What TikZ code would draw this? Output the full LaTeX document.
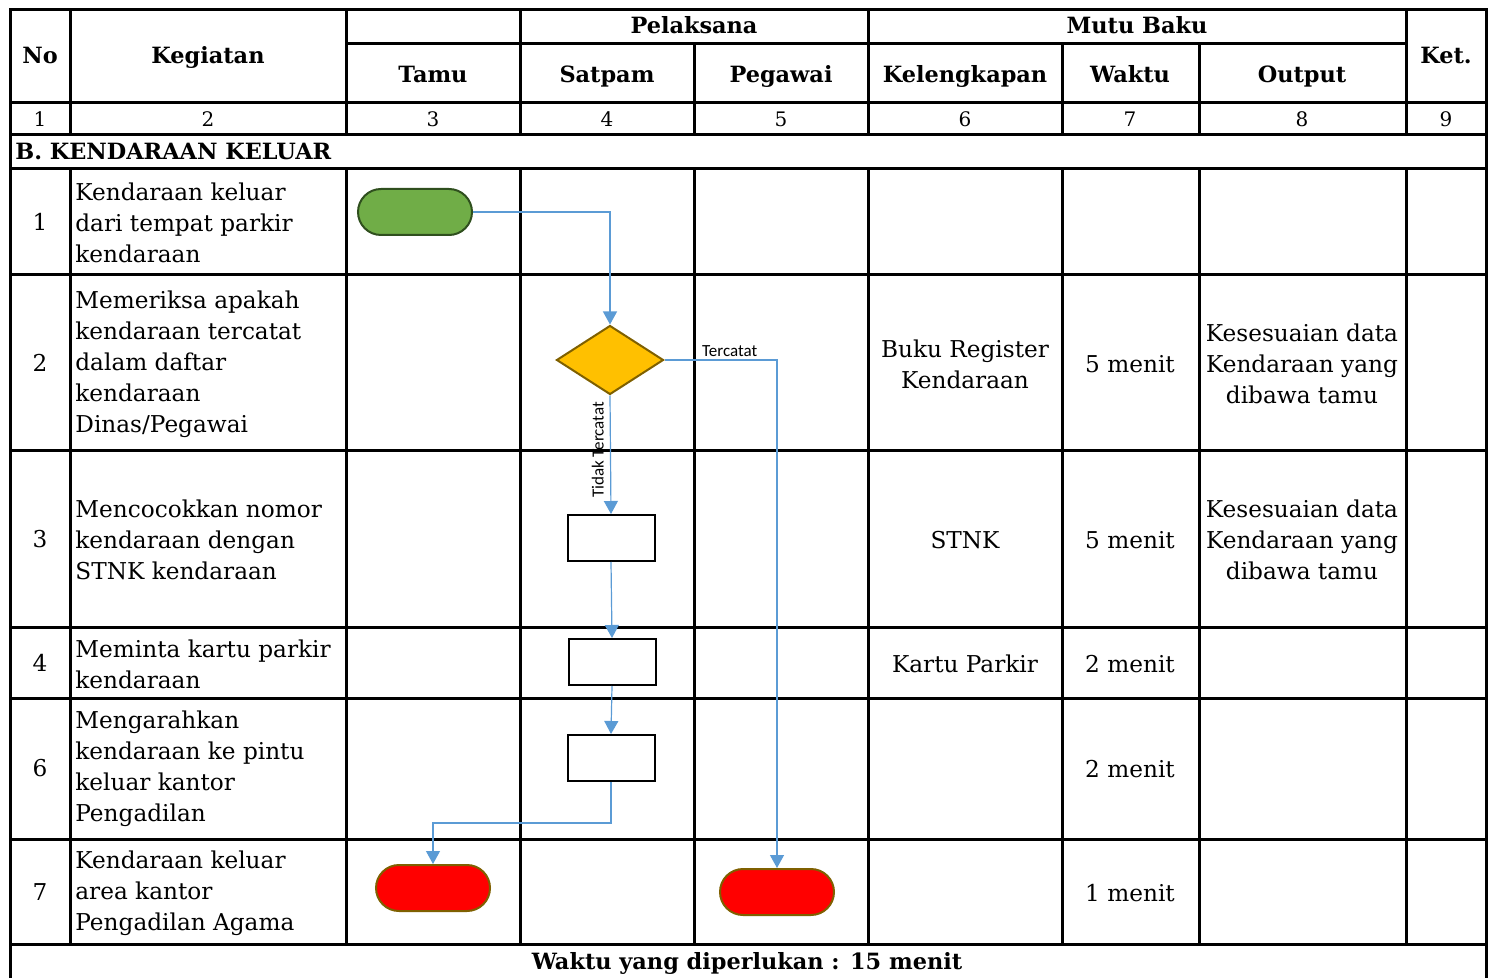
\documentclass[tikz,border=0pt]{standalone}
\usepackage{fontspec}
\setmainfont{DejaVu Serif}
\newfontfamily\labelfont{Carlito}
\usetikzlibrary{shapes.geometric,shapes.misc,arrows.meta}

\definecolor{startgreen}{HTML}{70AD47}
\definecolor{startedge}{HTML}{2F4F1E}
\definecolor{decyellow}{HTML}{FFC000}
\definecolor{decedge}{HTML}{7F6000}
\definecolor{flowblue}{HTML}{5B9BD5}

\begin{document}
\begin{tikzpicture}[x=0.5pt,y=-0.5pt,
  grid/.style={line width=1.5pt,line cap=rect},
  head/.style={font=\bfseries\fontsize{11.2}{13}\selectfont,text height=8pt,text depth=0.5pt},
  num/.style={font=\fontsize{10}{12}\selectfont,text height=7pt,text depth=0pt},
  act/.style={anchor=west,align=left,inner sep=0pt,font=\fontsize{11.6}{15.5}\selectfont},
  cell/.style={align=center,inner sep=0pt,font=\fontsize{11.6}{15.5}\selectfont},
  term/.style={rounded rectangle,draw=decedge,line width=1pt,minimum width=57pt,minimum height=23pt,inner sep=0pt},
  decision/.style={diamond,draw=decedge,fill=decyellow,line width=1pt,minimum width=53.5pt,minimum height=34.5pt,inner sep=0pt},
  proc/.style={rectangle,draw,line width=1pt,minimum width=43.5pt,minimum height=23pt,inner sep=0pt},
  flow/.style={draw=flowblue,line width=0.6pt,-{Triangle[width=7pt,length=6.5pt]}},
  flowlabel/.style={font=\labelfont\fontsize{8.5}{10}\selectfont,inner sep=1.5pt}]

\useasboundingbox (0,0) rectangle (1494,978);

% table lines
\draw[grid] (10,10) -- (1486,10);
\draw[grid] (346,44) -- (1406,44);
\draw[grid] (10,103) -- (1486,103);
\draw[grid] (10,135) -- (1486,135);
\draw[grid] (10,169) -- (1486,169);
\foreach \y in {275,451,627,698,839,944}
  \draw[grid] (10,\y) -- (1486,\y);

\draw[grid] (10,10) -- (10,978);
\draw[grid] (1486,10) -- (1486,978);
\foreach \x in {70,346,520,868,1406}
  \draw[grid] (\x,10) -- (\x,135) (\x,169) -- (\x,944);
\foreach \x in {694,1062,1199}
  \draw[grid] (\x,44) -- (\x,135) (\x,169) -- (\x,944);

% header
\node[head] (hno) at (40,56) {No};
\node[head] (hkeg) at (208,56) {Kegiatan};
\node[head] (hpel) at (694,26) {Pelaksana};
\node[head] (hmutu) at (1137,26) {Mutu Baku};
\node[head] (hket) at (1446,56) {Ket.};
\node[head] (htamu) at (433,75) {Tamu};
\node[head] (hsat) at (607,75) {Satpam};
\node[head] (hpeg) at (781,75) {Pegawai};
\node[head] (hkel) at (965,75) {Kelengkapan};
\node[head] (hwak) at (1130,75) {Waktu};
\node[head] (hout) at (1302,75) {Output};

\node[num] (n1) at (40,120) {1};
\node[num] (n2) at (208,120) {2};
\node[num] (n3) at (433,120) {3};
\node[num] (n4) at (607,120) {4};
\node[num] (n5) at (781,120) {5};
\node[num] (n6) at (965,120) {6};
\node[num] (n7) at (1130,120) {7};
\node[num] (n8) at (1302,120) {8};
\node[num] (n9) at (1446,120) {9};

\node[head,anchor=west,inner sep=0pt] (sect) at (15,152) {B. KENDARAAN KELUAR};

% rows
\node[cell] (r1) at (40,222) {1};
\node[cell] (r2) at (40,363) {2};
\node[cell] (r3) at (40,539) {3};
\node[cell] (r4) at (40,663) {4};
\node[cell] (r6) at (40,768) {6};
\node[cell] (r7) at (40,892) {7};

\node[act] (k1) at (75,223) {Kendaraan keluar\\dari tempat parkir\\kendaraan};
\node[act] (k2) at (75,364) {Memeriksa apakah\\kendaraan tercatat\\dalam daftar\\kendaraan\\Dinas/Pegawai};
\node[act] (k3) at (75,540) {Mencocokkan nomor\\kendaraan dengan\\STNK kendaraan};
\node[act] (k4) at (75,664) {Meminta kartu parkir\\kendaraan};
\node[act] (k6) at (75,769) {Mengarahkan\\kendaraan ke pintu\\keluar kantor\\Pengadilan};
\node[act] (k7) at (75,893) {Kendaraan keluar\\area kantor\\Pengadilan Agama};

\node[cell] (kel2) at (965,364) {Buku Register\\Kendaraan};
\node[cell] (kel3) at (965,540) {STNK};
\node[cell] (kel4) at (965,664) {Kartu Parkir};

\node[cell] (w2) at (1130,364) {5 menit};
\node[cell] (w3) at (1130,540) {5 menit};
\node[cell] (w4) at (1130,664) {2 menit};
\node[cell] (w6) at (1130,769) {2 menit};
\node[cell] (w7) at (1130,893) {1 menit};

\node[cell] (o2) at (1302,364) {Kesesuaian data\\Kendaraan yang\\dibawa tamu};
\node[cell] (o3) at (1302,540) {Kesesuaian data\\Kendaraan yang\\dibawa tamu};

\node[head] (total) at (747,962) {Waktu yang diperlukan : 15 menit};

% flow
\node[term,fill=startgreen,draw=startedge] (start) at (415,212) {};
\node[decision] (cek) at (610,360) {};
\node[proc] (cocok) at (611,538) {};
\node[proc] (kartu) at (612,662) {};
\node[proc] (arah) at (611,758) {};
\node[term,fill=red] (selesaiA) at (433,888) {};
\node[term,fill=red] (selesaiB) at (777,892) {};
\coordinate (belok) at (611,823);

\draw[flow] (start.east) -| (cek.north);
\draw[flow] (cek.east) -| node[pos=0.29,above,flowlabel] (ya) {Tercatat} (selesaiB.north);
\draw[flow] (cek.south) -- node[pos=0.46,above,rotate=90,flowlabel,inner sep=3pt] (tidak) {Tidak Tercatat} (cocok.north);
\draw[flow] (cocok.south) -- (kartu.north);
\draw[flow] (kartu.south) -- (arah.north);
\draw[flow] (arah.south) -- (belok) -| (selesaiA.north);

\end{tikzpicture}
\end{document}
